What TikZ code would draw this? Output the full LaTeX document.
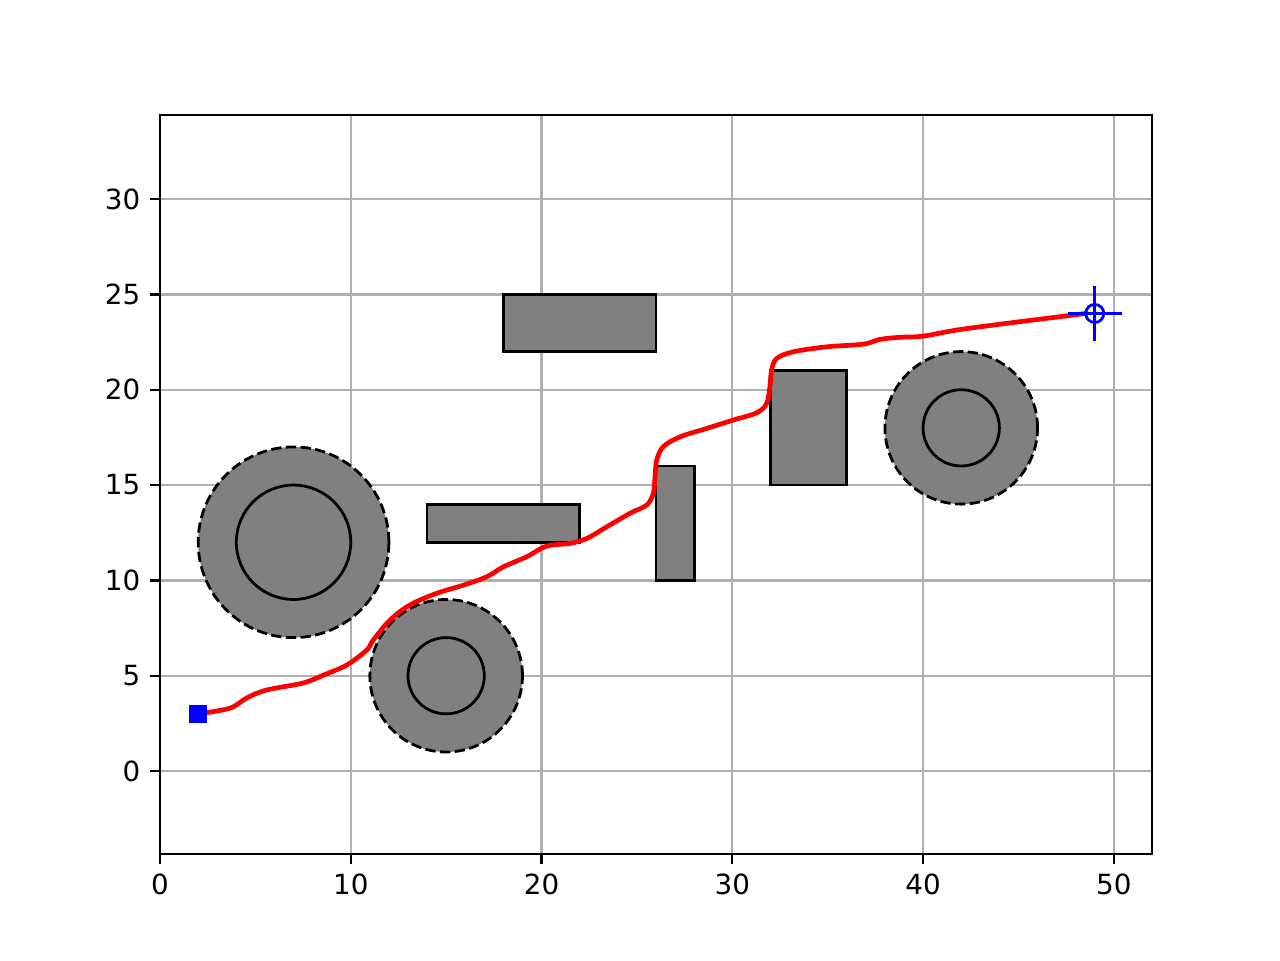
\documentclass[tikz,border=0pt]{standalone}
\usepackage{fontspec}
\setmainfont{DejaVu Sans}
\definecolor{gridgray}{HTML}{B0B0B0}
\definecolor{obgray}{HTML}{808080}
\begin{document}
\begin{tikzpicture}[x=13.735pt,y=13.728pt,
  gridline/.style={draw=gridgray,line width=1.6pt},
  obst/.style={fill=obgray,draw=black,line width=2pt},
  safety/.style={fill=obgray,draw=black,line width=2pt,dash pattern=on 7.4pt off 3.2pt},
  core/.style={draw=black,line width=2pt},
  tickmark/.style={draw=black,line width=1.6pt},
  xlab/.style={anchor=north,inner sep=0pt,font=\fontsize{20}{24}\selectfont,yshift=-14pt},
  ylab/.style={anchor=east,inner sep=0pt,font=\fontsize{20}{24}\selectfont,xshift=-14pt},
  route/.style={draw=red,line width=3.4pt,line cap=round,line join=round},
  goalmark/.style={draw=blue,line width=2pt}]
\useasboundingbox (-8.387,-9.912) rectangle (58.71,40.44);
% grid
\begin{scope}
\clip (0,-4.353) rectangle (52,34.405);
\foreach \gx in {0,10,20,30,40,50} \draw[gridline] (\gx,-4.353) -- (\gx,34.405);
\foreach \gy in {0,5,10,15,20,25,30} \draw[gridline] (0,\gy) -- (52,\gy);
\end{scope}
% rectangular obstacles
\draw[obst] (18,22) rectangle (26,25);
\draw[obst] (14,12) rectangle (22,14);
\draw[obst] (26,10) rectangle (28,16);
\draw[obst] (32,15) rectangle (36,21);
% circular obstacles
\draw[safety] (7,12) circle[radius=5];
\draw[core] (7,12) circle[radius=3];
\draw[safety] (15,5) circle[radius=4];
\draw[core] (15,5) circle[radius=2];
\draw[safety] (42,18) circle[radius=4];
\draw[core] (42,18) circle[radius=2];
% path
\draw[route] plot[smooth,tension=0.55] coordinates {
(2,3) (3.67,3.30) (4.54,3.83) (5.59,4.25) (7.51,4.62) (8.56,5.03) (9.79,5.56)
(10.84,6.35) (11.18,6.87) (12.06,7.92) (13.10,8.71) (14.50,9.32) (15.90,9.75)
(17.13,10.19) (18.00,10.71) (19.22,11.24) (20.27,11.80) (21.49,11.94) (22.37,12.20)
(23.42,12.81) (24.64,13.52) (25.51,13.95) (25.86,14.56) (25.95,15.44) (26.04,16.31)
(26.38,17.01) (27.26,17.53) (28.66,17.97) (30.05,18.41) (31.28,18.79) (31.80,19.28)
(31.97,20.16) (32.06,21.03) (32.33,21.64) (33.20,21.99) (34.95,22.25) (36.87,22.39)
(37.74,22.64) (38.79,22.75) (40.01,22.81) (41.76,23.13) (44.38,23.48) (48.54,24.00)};
% start
\coordinate (start) at (2,3);
\fill[blue] ([shift={(-6.5pt,-6.5pt)}]start) rectangle ([shift={(6.5pt,6.5pt)}]start);
% goal
\coordinate (goal) at (49,24);
\draw[goalmark] (goal) circle[radius=6.5pt];
\draw[goalmark] ([xshift=-19.5pt]goal) -- ([xshift=19.5pt]goal);
\draw[goalmark] ([yshift=-19.5pt]goal) -- ([yshift=19.5pt]goal);
% frame
\draw[line width=1.6pt] (0,-4.353) rectangle (52,34.405);
% ticks
\foreach \gx in {0,10,20,30,40,50} {
  \draw[tickmark] (\gx,-4.353) -- ++(0,-7pt);
  \node[xlab] at (\gx,-4.353) {\gx};
}
\foreach \gy in {0,5,10,15,20,25,30} {
  \draw[tickmark] (0,\gy) -- ++(-7pt,0);
  \node[ylab] at (0,\gy) {\gy};
}
\end{tikzpicture}
\end{document}
